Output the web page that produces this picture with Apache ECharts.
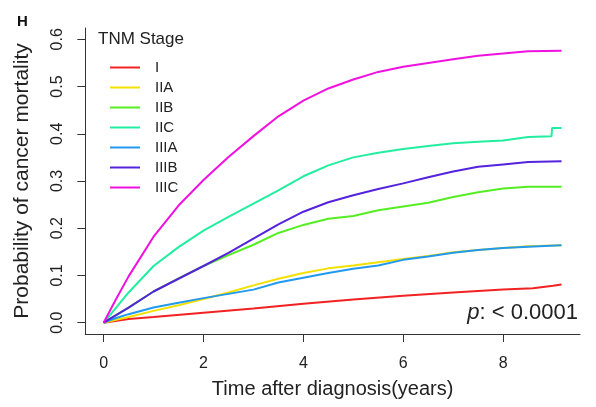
<!DOCTYPE html>
<html>
<head>
<meta charset="utf-8">
<script src="https://cdn.jsdelivr.net/npm/echarts@6/dist/echarts.min.js"></script>
<style>
html,body{margin:0;padding:0;background:#fff;}
#c{width:596px;height:407px;}
</style>
</head>
<body>
<div id="c"></div>
<script>
// ---- data ----
var stages = ['I', 'IIA', 'IIB', 'IIC', 'IIIA', 'IIIB', 'IIIC'];
var colors = ['#F22222', '#F2E000', '#55EE22', '#22EEA0', '#2299EE', '#5522DD', '#F011E0'];
var xTicks = [0, 2, 4, 6, 8];
var yTicks = [0, 0.1, 0.2, 0.3, 0.4, 0.5, 0.6];

var tI    = [0, 0.5, 1, 2, 3, 4, 5, 6, 7, 8, 8.6, 9.0, 9.17];
var vI    = [0, 0.008, 0.012, 0.021, 0.030, 0.040, 0.049, 0.057, 0.064, 0.070, 0.073, 0.078, 0.081];

var tMain = [0, 0.25, 0.5, 1, 1.5, 2, 2.5, 3, 3.5, 4, 4.5, 5, 5.5, 6, 6.5, 7, 7.5, 8, 8.5, 9.17];
var vIIA  = [0, 0.006, 0.012, 0.025, 0.037, 0.050, 0.064, 0.079, 0.093, 0.105, 0.115, 0.121, 0.128, 0.135, 0.141, 0.149, 0.154, 0.158, 0.162, 0.164];
var vIIB  = [0, 0.016, 0.032, 0.066, 0.094, 0.120, 0.143, 0.165, 0.190, 0.207, 0.220, 0.226, 0.238, 0.246, 0.254, 0.266, 0.276, 0.284, 0.288, 0.288];
var vIIIA = [0, 0.010, 0.018, 0.032, 0.042, 0.052, 0.061, 0.070, 0.085, 0.095, 0.105, 0.114, 0.121, 0.133, 0.140, 0.148, 0.154, 0.158, 0.161, 0.164];
var vIIIB = [0, 0.016, 0.032, 0.066, 0.093, 0.120, 0.148, 0.178, 0.208, 0.235, 0.255, 0.270, 0.283, 0.295, 0.308, 0.320, 0.330, 0.335, 0.340, 0.342];
var vIIIC = [0, 0.050, 0.098, 0.182, 0.248, 0.302, 0.351, 0.395, 0.437, 0.470, 0.496, 0.515, 0.531, 0.542, 0.550, 0.558, 0.565, 0.570, 0.575, 0.576];

var tIIC  = [0, 0.25, 0.5, 1, 1.5, 2, 2.5, 3, 3.5, 4, 4.5, 5, 5.5, 6, 6.5, 7, 7.5, 8, 8.5, 8.97, 8.98, 9.17];
var vIIC  = [0, 0.032, 0.064, 0.120, 0.160, 0.195, 0.224, 0.252, 0.280, 0.310, 0.333, 0.350, 0.360, 0.368, 0.374, 0.380, 0.383, 0.386, 0.393, 0.395, 0.412, 0.412];

function pairs(t, v) { return t.map(function (x, i) { return [x, v[i]]; }); }
var seriesData = [
  pairs(tI, vI), pairs(tMain, vIIA), pairs(tMain, vIIB), pairs(tIIC, vIIC),
  pairs(tMain, vIIIA), pairs(tMain, vIIIB), pairs(tMain, vIIIC)
];

var FONT = '"Liberation Sans", Arial, sans-serif';
var chart = echarts.init(document.getElementById('c'), null, {renderer: 'canvas'});

var series = stages.map(function (s, i) {
  return {
    name: s, type: 'line', data: seriesData[i], showSymbol: false, symbol: 'none',
    lineStyle: {width: 2, color: colors[i]}, itemStyle: {color: colors[i]},
    animation: false, z: 2 + i
  };
});

chart.setOption({
  animation: false,
  backgroundColor: '#fff',
  grid: {left: 85.3, right: 16, top: 28, bottom: 73, containLabel: false},
  xAxis: {
    type: 'value', min: -0.367, max: 9.54,
    name: 'Time after diagnosis(years)', nameLocation: 'middle', nameGap: 45,
    nameTextStyle: {fontFamily: FONT, fontSize: 20, color: '#222'},
    axisLine: {show: true, onZero: false, lineStyle: {color: '#333', width: 1}},
    axisTick: {show: true, inside: false, length: 8, customValues: xTicks, lineStyle: {color: '#333'}},
    axisLabel: {customValues: xTicks, fontFamily: FONT, fontSize: 16, color: '#222', margin: 22,
      formatter: function (v) { return String(v); }},
    splitLine: {show: false}
  },
  yAxis: {
    type: 'value', min: -0.024, max: 0.624,
    name: 'Probability of cancer mortality', nameLocation: 'middle', nameGap: 53, nameRotate: 90,
    nameTextStyle: {fontFamily: FONT, fontSize: 21, color: '#222'},
    axisLine: {show: true, onZero: false, lineStyle: {color: '#333', width: 1}},
    axisTick: {show: true, inside: false, length: 8, customValues: yTicks, lineStyle: {color: '#333'}},
    axisLabel: {customValues: yTicks, rotate: 90, fontFamily: FONT, fontSize: 16, color: '#222', margin: 20,
      formatter: function (v) { return v.toFixed(1); }},
    splitLine: {show: false}
  },
  legend: {
    data: stages, orient: 'vertical', left: 110, top: 60, padding: 0,
    icon: 'rect', itemWidth: 30, itemHeight: 2, itemGap: 5,
    textStyle: {fontFamily: FONT, fontSize: 15, color: '#222', padding: [0, 0, 0, 10], lineHeight: 15},
    selectedMode: false
  },
  graphic: [
    {type: 'text', left: 17, top: 14, style: {text: 'H', font: 'bold 15px ' + FONT, fill: '#111'}},
    {type: 'text', left: 98, top: 31, style: {text: 'TNM Stage', font: '17px ' + FONT, fill: '#222'}},
    {type: 'text', right: 18, top: 302, style: {
      rich: {p: {font: 'italic 22px ' + FONT, fill: '#222'}, r: {font: '22px ' + FONT, fill: '#222'}},
      text: '{p|p}{r|: < 0.0001}'}}
  ],
  series: series
});
</script>
</body>
</html>
